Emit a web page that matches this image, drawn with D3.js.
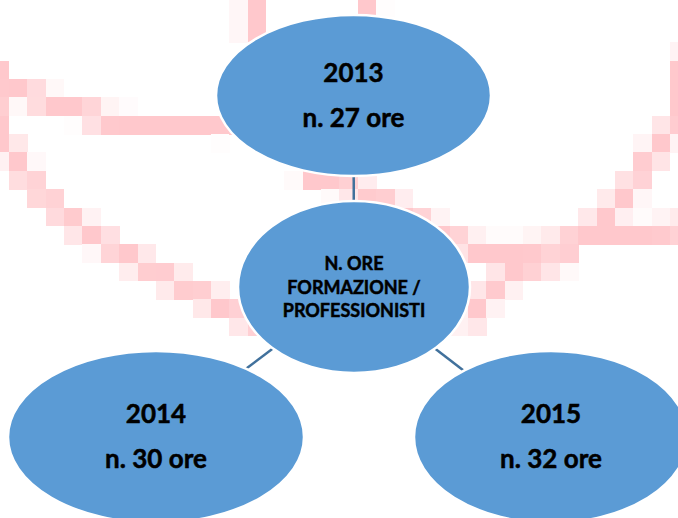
<!DOCTYPE html>
<html>
<head>
<meta charset="utf-8">
<script src="https://cdn.jsdelivr.net/npm/d3@7"></script>
<style>
  html, body { margin: 0; padding: 0; background: #fff; overflow: hidden; }
  svg { display: block; }
  text { font-family: Lato, "Open Sans", sans-serif; font-weight: bold; fill: #000; stroke: #000; stroke-width: 0.5px; }
</style>
</head>
<body>
<div class="chart-container"></div>
<script>
//! DATA
const years = ['2013', '2014', '2015']
const hours = [27, 30, 32]
const centerLabel = ['N. ORE', 'FORMAZIONE /', 'PROFESSIONISTI']

//! CONSTS
const WIDTH = 678
const HEIGHT = 518
const CELL = 18.36          // size of the blurry background "pixels"
const GRID_X0 = -9.36
const GRID_Y0 = -12.76
const PINK = '#ffc8cc'
const FILL = '#5b9bd5'
const LINK = '#41719c'

// centre node and the three outer nodes (same order as years)
const centerNode = { cx: 354, cy: 287, rx: 116, ry: 86 }
const outerNodes = [
  { cx: 353.5, cy: 95.5, rx: 137.5, ry: 80.5 },
  { cx: 156, cy: 437, rx: 148, ry: 86 },
  { cx: 551, cy: 437, rx: 137, ry: 86 }
]

// pink swirls of the background picture (drawn low-res)
const swirls = [
  [[-2, 70], [-5, 110], [0, 140], [18, 161], [28, 180], [46, 198], [66, 216], [92, 235], [121, 253], [156, 272], [192, 290], [225, 308], [255, 322]],
  [[0, 84], [25, 92], [55, 106], [80, 108], [105, 121], [140, 125], [235, 126]],
  [[254, -20], [254, 40]],
  [[368, -20], [368, 14]],
  [[681, 66], [681, 115], [662, 142], [645, 165], [628, 192], [607, 215], [588, 232], [560, 246], [520, 252], [480, 252], [455, 240], [430, 228], [405, 214], [375, 198], [345, 184], [310, 178]],
  [[595, 236], [640, 234], [690, 228]],
  [[565, 256], [520, 270], [495, 285], [480, 305], [470, 318]]
]

//! SVG
const svg = d3.select('.chart-container')
  .append('svg')
  .attr('width', WIDTH)
  .attr('height', HEIGHT)

//! BACKGROUND
const segDist = (px, py, a, b) => {
  const dx = b[0] - a[0], dy = b[1] - a[1]
  const len = dx * dx + dy * dy
  let t = len ? ((px - a[0]) * dx + (py - a[1]) * dy) / len : 0
  t = Math.max(0, Math.min(1, t))
  return Math.hypot(px - (a[0] + t * dx), py - (a[1] + t * dy))
}

const cells = []
d3.range(Math.ceil((WIDTH - GRID_X0) / CELL)).forEach(i => {
  d3.range(Math.ceil((HEIGHT - GRID_Y0) / CELL)).forEach(j => {
    const x = GRID_X0 + i * CELL, y = GRID_Y0 + j * CELL
    const px = x + CELL / 2, py = y + CELL / 2
    let d = Infinity
    swirls.forEach(s => {
      for (let k = 1; k < s.length; k++) d = Math.min(d, segDist(px, py, s[k - 1], s[k]))
    })
    const v = Math.max(0, Math.min(1, 1 - (d - 3) / 15))
    if (v > 0.03) cells.push({ x, y, v })
  })
})

const pinkScale = d3.scaleLinear().domain([0, 1]).range(['#ffffff', PINK])

svg.append('g')
  .selectAll('rect')
  .data(cells)
  .enter()
  .append('rect')
  .attr('x', d => d.x)
  .attr('y', d => d.y)
  .attr('width', CELL + 0.4)
  .attr('height', CELL + 0.4)
  .attr('fill', d => pinkScale(d.v))
  .attr('shape-rendering', 'crispEdges')

//! LINKS
// point on an ellipse border in the direction of (tx, ty)
const border = (e, tx, ty) => {
  const dx = tx - e.cx, dy = ty - e.cy
  const t = 1 / Math.sqrt((dx / e.rx) ** 2 + (dy / e.ry) ** 2)
  return [e.cx + dx * t, e.cy + dy * t]
}

svg.append('g')
  .selectAll('line')
  .data(outerNodes)
  .enter()
  .append('line')
  .each(function (d) {
    const a = border(centerNode, d.cx, d.cy)
    const b = border(d, centerNode.cx, centerNode.cy)
    d3.select(this)
      .attr('x1', a[0]).attr('y1', a[1])
      .attr('x2', b[0]).attr('y2', b[1])
  })
  .attr('stroke', LINK)
  .attr('stroke-width', 2.5)

//! NODES
const allNodes = [centerNode].concat(outerNodes)

svg.append('g')
  .selectAll('ellipse')
  .data(allNodes)
  .enter()
  .append('ellipse')
  .attr('cx', d => d.cx)
  .attr('cy', d => d.cy)
  .attr('rx', d => d.rx)
  .attr('ry', d => d.ry)
  .attr('fill', FILL)
  .attr('stroke', '#fff')
  .attr('stroke-width', 2.5)

// centre label
svg.append('g')
  .selectAll('text')
  .data(centerLabel)
  .enter()
  .append('text')
  .attr('x', centerNode.cx)
  .attr('y', (d, i) => centerNode.cy - 17 + i * 23.5)
  .attr('text-anchor', 'middle')
  .style('font-size', '18px')
  .text(d => d)

// year nodes
const yearG = svg.append('g')
  .selectAll('g')
  .data(outerNodes.map((n, i) => ({ n, year: years[i], h: hours[i] })))
  .enter()
  .append('g')

yearG.append('text')
  .attr('x', d => d.n.cx)
  .attr('y', d => d.n.cy - 14)
  .attr('text-anchor', 'middle')
  .style('font-size', '26px')
  .text(d => d.year)

yearG.append('text')
  .attr('x', d => d.n.cx)
  .attr('y', d => d.n.cy + 31)
  .attr('text-anchor', 'middle')
  .style('font-size', '26px')
  .text(d => `n. ${d.h} ore`)
</script>
</body>
</html>
